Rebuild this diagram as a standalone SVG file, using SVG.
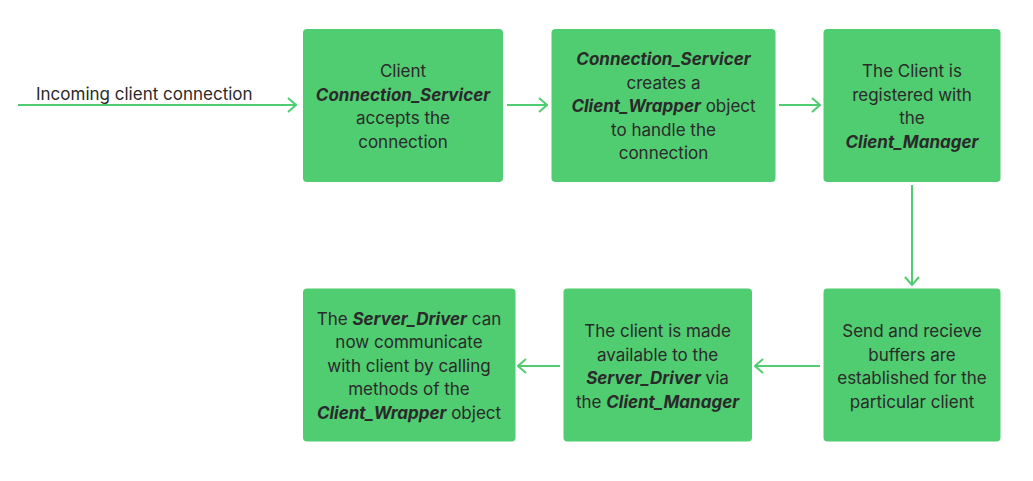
<svg xmlns="http://www.w3.org/2000/svg" width="1033" height="481" viewBox="0 0 1033 481">
<defs>
<style>
.box{fill:#50cc71;}
.t{font-family:Inter,"Liberation Sans",sans-serif;font-size:17px;fill:#2a2a2a;text-anchor:middle;}
.lbl{font-family:Inter,"Liberation Sans",sans-serif;font-size:17px;fill:#2a2a2a;}
.b{font-weight:bold;font-style:italic;}
.c{stroke:#50cc71;stroke-width:2;fill:none;}
</style>
<marker id="ah" viewBox="0 0 10 16" refX="9" refY="8" markerWidth="10" markerHeight="16" markerUnits="userSpaceOnUse" orient="auto">
<path d="M1,1 L9,8 L1,15" fill="none" stroke="#50cc71" stroke-width="2"/>
</marker>
</defs>
<rect width="1033" height="481" fill="#ffffff"/>
<g id="connectors">
<line class="c" x1="18" y1="105" x2="296" y2="105" marker-end="url(#ah)"/>
<line class="c" x1="507" y1="105" x2="547" y2="105" marker-end="url(#ah)"/>
<line class="c" x1="779" y1="105" x2="820" y2="105" marker-end="url(#ah)"/>
<line class="c" x1="912" y1="185" x2="912" y2="285" marker-end="url(#ah)"/>
<line class="c" x1="820" y1="366" x2="755" y2="366" marker-end="url(#ah)"/>
<line class="c" x1="560" y1="366" x2="518" y2="366" marker-end="url(#ah)"/>
<text class="lbl" x="36" y="100">Incoming client connection</text>
</g>
<g id="n1">
<rect class="box" x="303" y="29" width="200" height="153" rx="4"/>
<text class="t" x="403" y="77">Client</text>
<text class="t b" x="403" y="100.5">Connection_Servicer</text>
<text class="t" x="403" y="124">accepts the</text>
<text class="t" x="403" y="147.5">connection</text>
</g>
<g id="n2">
<rect class="box" x="551.5" y="29" width="224" height="153" rx="4"/>
<text class="t b" x="663.5" y="65">Connection_Servicer</text>
<text class="t" x="663.5" y="88.5">creates a</text>
<text class="t" x="663.5" y="112"><tspan class="b">Client_Wrapper</tspan> object</text>
<text class="t" x="663.5" y="135.5">to handle the</text>
<text class="t" x="663.5" y="159">connection</text>
</g>
<g id="n3">
<rect class="box" x="823.5" y="29" width="177" height="153" rx="4"/>
<text class="t" x="912" y="77">The Client is</text>
<text class="t" x="912" y="100.5">registered with</text>
<text class="t" x="912" y="124">the</text>
<text class="t b" x="912" y="147.5">Client_Manager</text>
</g>
<g id="n4">
<rect class="box" x="823.5" y="288.5" width="177" height="153" rx="4"/>
<text class="t" x="912" y="337">Send and recieve</text>
<text class="t" x="912" y="360.5">buffers are</text>
<text class="t" x="912" y="384">established for the</text>
<text class="t" x="912" y="407.5">particular client</text>
</g>
<g id="n5">
<rect class="box" x="563.5" y="288.5" width="188.5" height="153" rx="4"/>
<text class="t" x="657.5" y="337">The client is made</text>
<text class="t" x="657.5" y="360.5">available to the</text>
<text class="t" x="657.5" y="384"><tspan class="b">Server_Driver</tspan> via</text>
<text class="t" x="657.5" y="407.5">the <tspan class="b">Client_Manager</tspan></text>
</g>
<g id="n6">
<rect class="box" x="303" y="288.5" width="212.5" height="153" rx="4"/>
<text class="t" x="409" y="324.5">The <tspan class="b">Server_Driver</tspan> can</text>
<text class="t" x="409" y="348">now communicate</text>
<text class="t" x="409" y="371.5">with client by calling</text>
<text class="t" x="409" y="395">methods of the</text>
<text class="t" x="409" y="418.5"><tspan class="b">Client_Wrapper</tspan> object</text>
</g>
</svg>
